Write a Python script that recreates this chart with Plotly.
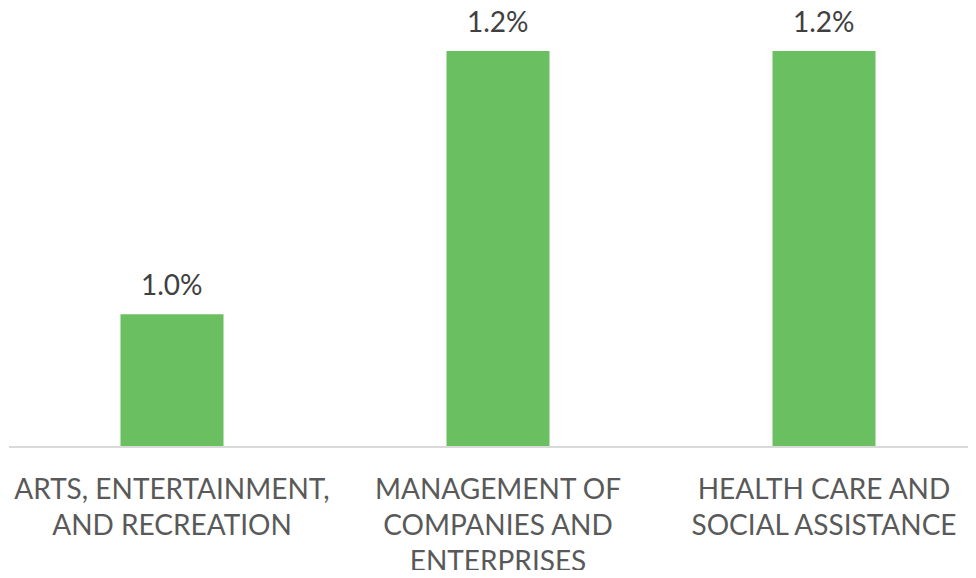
import plotly.graph_objects as go

categories = ["ARTS, ENTERTAINMENT,<br>AND RECREATION",
              "MANAGEMENT OF<br>COMPANIES AND<br>ENTERPRISES",
              "HEALTH CARE AND<br>SOCIAL ASSISTANCE"]
values = [0.0100, 0.0120, 0.0120]
value_labels = ["1.0%", "1.2%", "1.2%"]

FONT = "Lato"
fig = go.Figure()
fig.add_trace(go.Bar(
    x=categories, y=values, marker=dict(color="#6ABF61", line=dict(width=0)),
    width=0.316, hoverinfo="skip"))

for c, v, t in zip(categories, values, value_labels):
    fig.add_annotation(x=c, y=v, text=t, showarrow=False, yanchor="bottom",
                       yshift=11, font=dict(family=FONT, size=28, color="#404040"))

# page body has an 8px margin, so the figure is sized to fit inside it
fig.update_layout(
    width=960, height=562,
    margin=dict(l=1, r=0, t=0, b=124, autoexpand=False),
    paper_bgcolor="white", plot_bgcolor="white",
    showlegend=False,
    xaxis=dict(range=[-0.5, 2.4417], showline=True, linecolor="#D9D9D9", linewidth=2,
               ticks="", showgrid=False, zeroline=False, automargin=False,
               tickfont=dict(family=FONT, size=28, color="#595959"),
               ticklabelstandoff=17),
    yaxis=dict(range=[0.009, 0.012327], visible=False, showgrid=False, zeroline=False,
               automargin=False),
)
fig.write_html("out.html")
